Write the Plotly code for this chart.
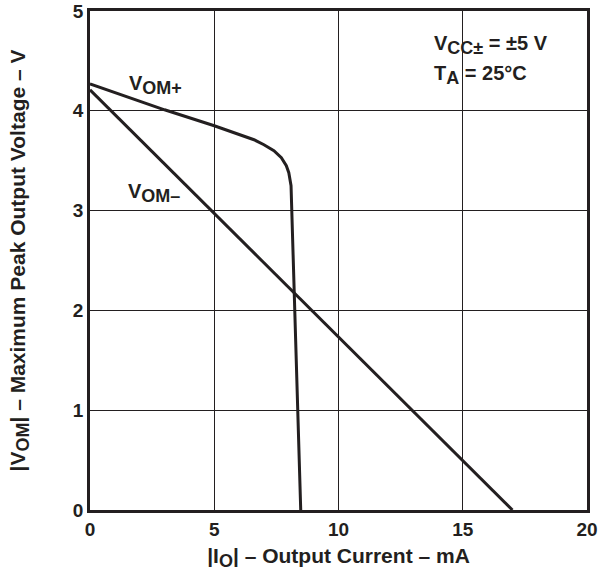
import plotly.graph_objects as go

# Data
io_plus = [0, 3, 5, 6.6, 7.0, 7.4, 7.7, 7.9, 8.0, 8.06, 8.09, 8.48]
vom_plus = [4.27, 4.01, 3.85, 3.71, 3.66, 3.60, 3.53, 3.45, 3.38, 3.31, 3.25, 0]

io_minus = [0, 17.0]
vom_minus = [4.21, 0]

x_ticks = [0, 5, 10, 15, 20]
y_ticks = [0, 1, 2, 3, 4, 5]

ink = "#231f20"
font_family = "Liberation Sans, Arial, sans-serif"


def sub(s, size=18):
    # near full-size subscript, as in the datasheet
    return f"<sub><span style='font-size:{size}px'>{s}</span></sub>"


fig = go.Figure()

fig.add_trace(go.Scatter(x=io_plus, y=vom_plus, mode="lines",
                         line=dict(color=ink, width=3), showlegend=False))
fig.add_trace(go.Scatter(x=io_minus, y=vom_minus, mode="lines",
                         line=dict(color=ink, width=3), showlegend=False))

fig.update_layout(
    width=610, height=571,
    margin=dict(l=90, r=23, t=11, b=61),
    plot_bgcolor="white", paper_bgcolor="white",
    font=dict(family=font_family, color=ink, size=20),
    showlegend=False,
)

fig.update_xaxes(
    range=[0, 20], tickvals=x_ticks, ticktext=[f"<b>{v}</b>" for v in x_ticks],
    showgrid=True, gridcolor=ink, gridwidth=1, automargin=False,
    ticklabeloverflow="allow",
    showline=True, linecolor=ink, linewidth=2.5, mirror=True, zeroline=False,
    ticks="", tickfont=dict(size=19),
    title=dict(text="<b>|I" + sub("O") + "| – Output Current – mA</b>",
               font=dict(size=21), standoff=10),
)
fig.update_yaxes(
    range=[0, 5], tickvals=y_ticks, ticktext=[f"<b>{v}</b>" for v in y_ticks],
    showgrid=True, gridcolor=ink, gridwidth=1, automargin=False,
    ticklabeloverflow="allow",
    showline=True, linecolor=ink, linewidth=2.5, mirror=True, zeroline=False,
    ticks="", tickfont=dict(size=19),
    title=dict(text="<b>|V" + sub("OM") + "| – Maximum Peak Output Voltage – V</b>",
               font=dict(size=21), standoff=42),
)

fig.add_annotation(x=1.49, y=4.26, text="<b>V" + sub("OM+") + "</b>", showarrow=False,
                   xanchor="left", font=dict(size=20))
fig.add_annotation(x=1.45, y=3.18, text="<b>V" + sub("OM–") + "</b>", showarrow=False,
                   xanchor="left", font=dict(size=20))
fig.add_annotation(x=13.76, y=4.66, text="<b>V" + sub("CC±") + " = ±5 V</b>", showarrow=False,
                   xanchor="left", font=dict(size=20))
fig.add_annotation(x=13.76, y=4.36, text="<b>T" + sub("A") + " = 25°C</b>", showarrow=False,
                   xanchor="left", font=dict(size=20))

# drop the default 8px page margin so the figure fills the window
fig.write_html("out.html", config={"displayModeBar": False},
               post_script="document.body.style.margin='0';")
